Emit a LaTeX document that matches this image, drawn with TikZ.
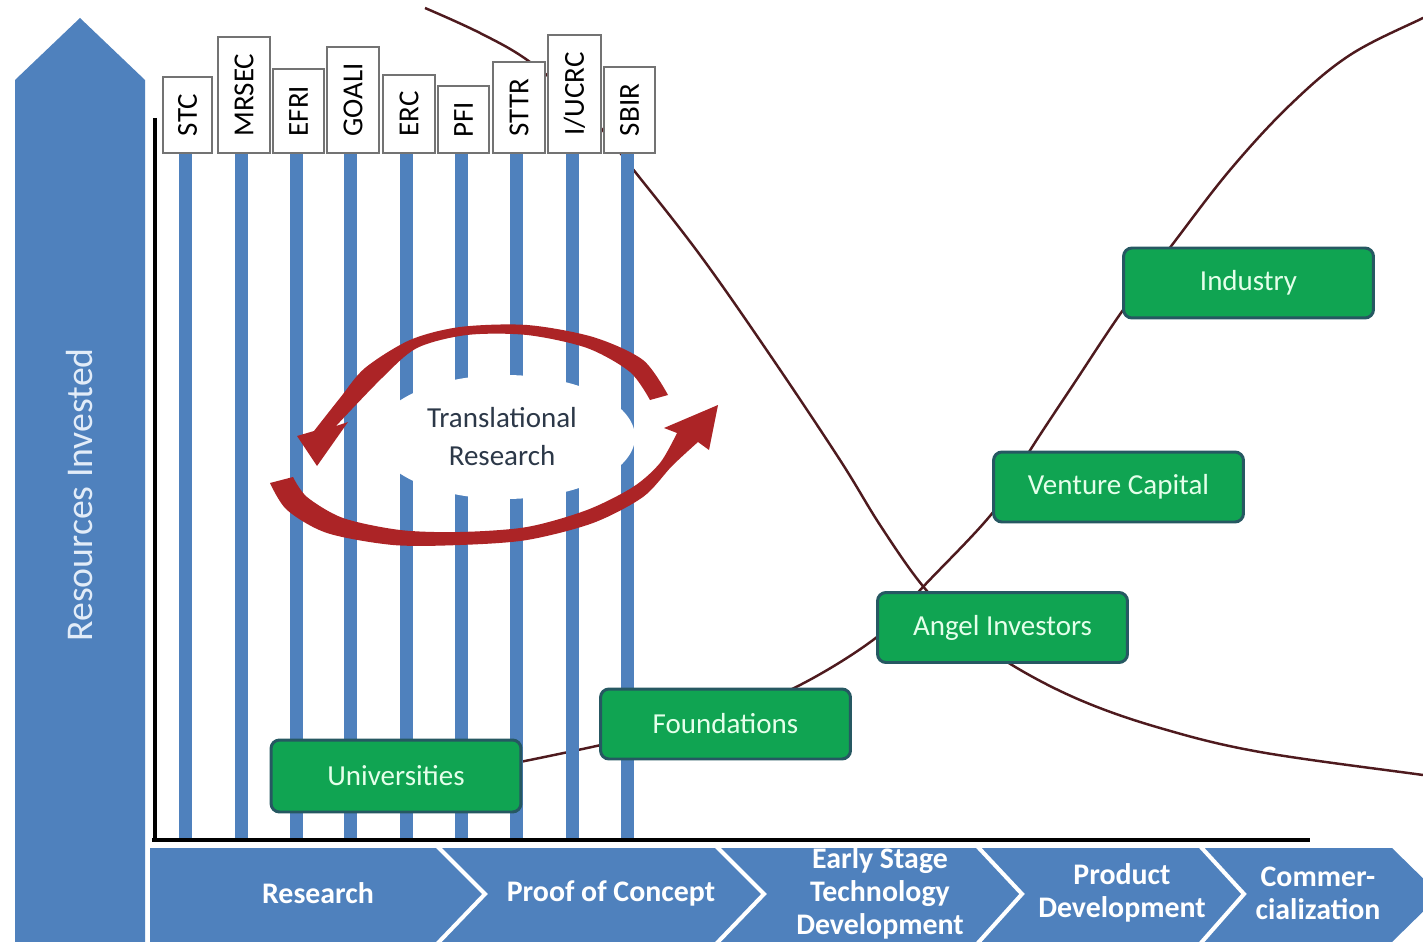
\documentclass[tikz,border=0pt]{standalone}
\usepackage{fontspec}
\setmainfont{Carlito}
\usetikzlibrary{arrows.meta}
\definecolor{obl}{RGB}{79,129,189}
\definecolor{gbox}{RGB}{16,164,82}
\definecolor{gedge}{RGB}{38,88,98}
\definecolor{gtext}{RGB}{228,255,234}
\definecolor{curvec}{RGB}{78,26,30}
\definecolor{redarr}{RGB}{172,36,38}
\definecolor{trtext}{RGB}{44,56,72}
\definecolor{restext}{RGB}{226,236,248}
\pgfdeclarelayer{back}
\pgfdeclarelayer{mid}
\pgfsetlayers{back,mid,main}
\begin{document}
\begin{tikzpicture}[x=0.02cm,y=-0.02cm,
 labbox/.style={draw=black!55, line width=0.6pt, fill=white, rotate=90, inner sep=0pt, font=\fontsize{16.5}{19}\selectfont},
 fundbox/.style={draw=gedge, line width=1.7pt, fill=gbox, rounded corners=0.17cm, minimum width=5cm, minimum height=1.4cm, text=gtext, font=\fontsize{16.5}{19}\selectfont},
 bar/.style={draw=obl, line width=7.4pt},
 curve/.style={draw=curvec, line width=1.4pt},
 chtext/.style={text=white, font=\bfseries\fontsize{17}{19}\selectfont, align=center, inner sep=0pt},
 sep/.style={draw=white, line width=2.3pt},
 axisline/.style={draw=black, line width=1.8pt},
]
\useasboundingbox (0,0) rectangle (1423,942);
\begin{pgfonlayer}{back}
\fill[white] (0,0) rectangle (1423,942);
% rising curve
\draw[curve] plot[smooth, tension=0.6] coordinates {(520,762) (601,745) (700,722) (790,690) (877,637) (922,588) (994,511) (1029,452) (1075,382) (1123,310) (1172,245) (1230,170) (1290,105) (1350,55) (1423,18) (1445,8)};
% falling curve
\draw[curve] plot[smooth, tension=0.6] coordinates {(425,8) (480,33) (530,62) (585,110) (632,168) (700,255) (770,355) (840,460) (880,525) (922,585) (965,630) (1012,665) (1080,700) (1160,728) (1260,752) (1423,775) (1445,778)};
\end{pgfonlayer}

% left arrow
\fill[obl] (15,80) -- (80,18) -- (145,80) -- (145,942) -- (15,942) -- cycle;
\node[rotate=90, text=restext, font=\fontsize{21.5}{24}\selectfont] (resinv) at (80,495) {Resources Invested};

% program label boxes
\node[labbox, minimum width=1.52cm, minimum height=0.98cm] (stc) at (187.5,115) {STC};
\node[labbox, minimum width=2.32cm, minimum height=1.04cm] (mrsec) at (244,95) {MRSEC};
\node[labbox, minimum width=1.68cm, minimum height=1.02cm] (efri) at (298.5,111) {EFRI};
\node[labbox, minimum width=2.12cm, minimum height=1.04cm] (goali) at (353,100) {GOALI};
\node[labbox, minimum width=1.56cm, minimum height=1.04cm] (erc) at (409,114) {ERC};
\node[labbox, minimum width=1.34cm, minimum height=1.02cm] (pfi) at (463.5,119.5) {PFI};
\node[labbox, minimum width=1.82cm, minimum height=1.04cm] (sttr) at (519,107.5) {STTR};
\node[labbox, minimum width=2.36cm, minimum height=1.06cm] (iucrc) at (574.5,94) {I/UCRC};
\node[labbox, minimum width=1.72cm, minimum height=1.02cm] (sbir) at (629.5,110) {SBIR};

\coordinate (hax) at (155,840);
\coordinate (vtop) at (155,118);
\coordinate (hend) at (1310,840);

\begin{pgfonlayer}{mid}
\foreach \n in {stc,mrsec,efri,goali,erc,pfi,sttr,iucrc,sbir}{
  \draw[bar] ([xshift=-0.05cm]\n.west) -- ([xshift=-0.05cm]\n.west |- hax);
}
\fill[white] (505,437) ellipse [x radius=2.6cm, y radius=1.24cm];
\draw[axisline] (vtop) -- (hax);
\draw[axisline] ([xshift=-0.06cm]hax) -- (hend);
\end{pgfonlayer}

% translational research arrows
\fill[redarr] (650,400) -- plot[smooth] coordinates {(650,400) (630,372) (587,348) (527,335) (467,335) (417,348) (382,378) (336,426)} -- (348,422) -- (317,466) -- (297,436) -- (314,431) -- plot[smooth] coordinates {(314,431) (340,398) (365,368) (410,340) (460,327) (527,325) (593,337) (643,360) (668,395)} -- cycle;
\fill[redarr] (270,483) -- plot[smooth] coordinates {(270,483) (287,510) (327,533) (393,545) (460,545) (527,540) (593,523) (643,497) (672,466) (698,442)} -- (709,450) -- (718,405) -- (664,428) -- (677,433) -- plot[smooth] coordinates {(677,433) (660,463) (633,487) (587,510) (527,527) (460,532) (400,530) (343,518) (307,497) (293,477)} -- cycle;
\node[text=trtext, align=center, font=\fontsize{16.5}{21.6}\selectfont] (trans) at (502,437) {Translational\\Research};

% funding boxes
\node[fundbox, minimum height=1.44cm] (univ) at (396,776) {Universities};
\node[fundbox] (found) at (725.5,724) {Foundations};
\node[fundbox] (angel) at (1002.5,627.5) {Angel Investors};
\node[fundbox] (vc) at (1118.5,487) {Venture Capital};
\node[fundbox] (ind) at (1248.5,283) {Industry};

% stage band
\fill[obl] (150,848) -- (1392,848) -- (1440,895) -- (1392,942) -- (150,942) -- cycle;
\draw[sep] (437,846) -- (485,894) -- (437,944);
\draw[sep] (716,846) -- (764,894) -- (716,944);
\draw[sep] (977,846) -- (1022,894) -- (977,944);
\draw[sep] (1200,846) -- (1244,894) -- (1200,944);
\node[chtext] (s1) at (318,893) {Research};
\node[chtext] (s2) at (611,893) {Proof of Concept};
\node[chtext, font=\bfseries\fontsize{17}{18.8}\selectfont] (s3) at (880,893) {Early Stage\\Technology\\Development};
\node[chtext, font=\bfseries\fontsize{17}{18.8}\selectfont] (s4) at (1122,893) {Product\\Development};
\node[chtext, font=\bfseries\fontsize{17}{18.8}\selectfont] (s5) at (1318,893) {Commer-\\cialization};
\end{tikzpicture}
\end{document}
